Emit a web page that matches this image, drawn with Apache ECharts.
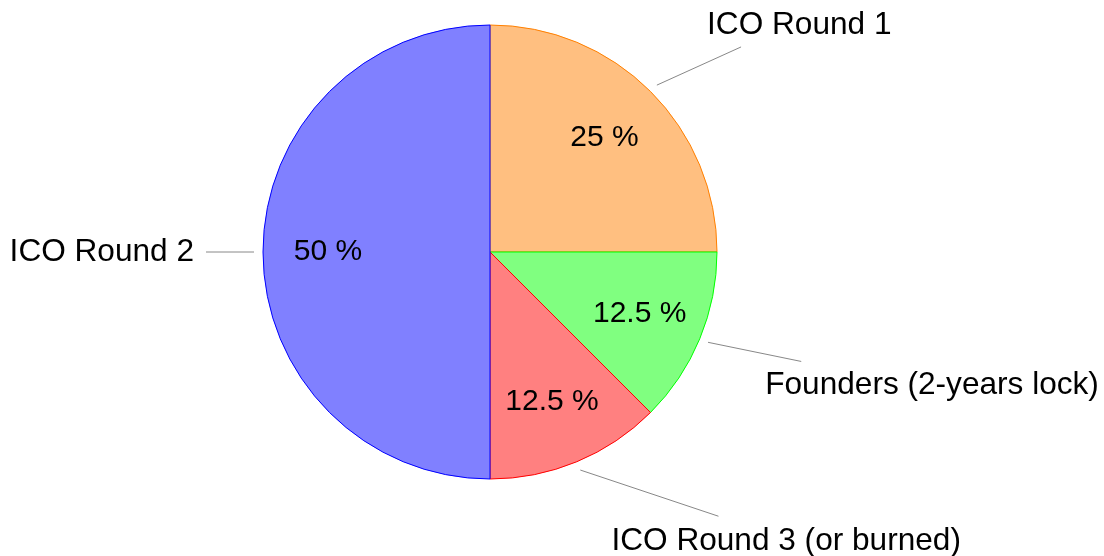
<!DOCTYPE html>
<html><head><meta charset="utf-8">
<script src="https://cdn.jsdelivr.net/npm/echarts@6/dist/echarts.min.js"></script>
<style>html,body{margin:0;padding:0;background:#fff}#c{width:1104px;height:556px}</style>
</head><body><div id="c"></div>
<script>
// Data
const categories = ['ICO Round 1', 'Founders (2-years lock)', 'ICO Round 3 (or burned)', 'ICO Round 2'];
const values = [25, 12.5, 12.5, 50];

// Styles
const fillColors = ['#ffbf80', '#80ff80', '#ff8080', '#8080ff'];
const borderColors = ['#ff8000', '#00ff00', '#ff0000', '#0000ff'];
const lineLen = [54, 50, 50, 48];
const lineLen2 = [46, 47, 119, 0];
const labelShift = [[-39, -22], [-41, 24], [-112, 25], [-7, 0]];

const FONT = 'Liberation Sans, Arial, Helvetica, sans-serif';
const center = [490, 252];

const chart = echarts.init(document.getElementById('c'), null, { renderer: 'canvas' });
chart.setOption({
  animation: false,
  backgroundColor: '#ffffff',
  series: [
    {
      type: 'pie', center: center, radius: 227, startAngle: 90, clockwise: true, silent: true,
      avoidLabelOverlap: false,
      data: categories.map((n, i) => ({
        name: n, value: values[i],
        itemStyle: { color: fillColors[i], borderColor: borderColors[i], borderWidth: 1 }
      })),
      label: { show: false }, labelLine: { show: false }
    },
    {
      type: 'pie', center: center, radius: [91, 227], startAngle: 90, clockwise: true, silent: true,
      avoidLabelOverlap: false,
      itemStyle: { color: 'transparent', borderWidth: 0 },
      data: categories.map((n, i) => ({ name: n, value: values[i] })),
      label: { show: true, position: 'inside', formatter: '{c} %', fontSize: 30, color: '#000', fontFamily: FONT },
      labelLine: { show: false }
    },
    {
      type: 'pie', center: center, radius: 236, startAngle: 90, clockwise: true, silent: true,
      avoidLabelOverlap: false,
      itemStyle: { color: 'transparent', borderWidth: 0 },
      data: categories.map((n, i) => ({
        name: n, value: values[i],
        labelLine: { length: lineLen[i], length2: lineLen2[i] }
      })),
      label: { show: true, position: 'outside', formatter: '{b}', fontSize: 31.6, color: '#000', fontFamily: FONT },
      labelLine: { show: true, lineStyle: { color: '#888888', width: 1 } },
      labelLayout: function (p) {
        const pts = p.labelLinePoints;
        const out = { dx: labelShift[p.dataIndex][0], dy: labelShift[p.dataIndex][1] };
        if (pts && pts.length) out.labelLinePoints = [pts[0], pts[pts.length - 1]];
        return out;
      }
    }
  ]
});
</script>
</body></html>
